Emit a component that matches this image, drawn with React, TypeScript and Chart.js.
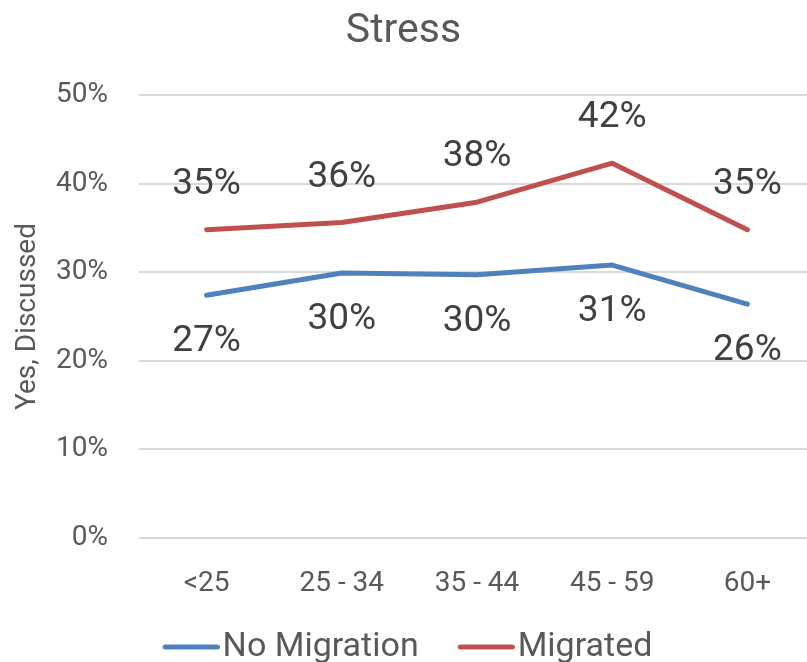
import React, { useEffect, useRef } from 'react';
import { Chart, registerables } from 'chart.js';

Chart.register(...registerables);

const categories = ['<25', '25 - 34', '35 - 44', '45 - 59', '60+'];
const noMigration = [27.4, 29.9, 29.7, 30.8, 26.4];
const migrated = [34.8, 35.6, 37.9, 42.3, 34.8];
const seriesNames = ['No Migration', 'Migrated'];
const yMin = 0;
const yMax = 50;
const yStep = 10;
const chartTitle = 'Stress';
const yTitle = 'Yes, Discussed';

const BLUE = '#4F81BD';
const RED = '#C0504D';
const FONT = 'Roboto';
const TEXT = '#595959';

const LEGEND_BOX = 51;
const LEGEND_IMG = 79;
const LEGEND_LINE = 57;

function legendLine(color: string) {
  const c = document.createElement('canvas');
  c.width = LEGEND_IMG;
  c.height = 10;
  const ctx = c.getContext('2d')!;
  ctx.strokeStyle = color;
  ctx.lineWidth = 5;
  ctx.lineCap = 'round';
  ctx.beginPath();
  ctx.moveTo(LEGEND_IMG - LEGEND_LINE + 2.5, 5);
  ctx.lineTo(LEGEND_IMG - 2.5, 5);
  ctx.stroke();
  return c;
}

const valueLabels = {
  id: 'valueLabels',
  afterDatasetsDraw(chart: any) {
    const ctx = chart.ctx;
    ctx.save();
    ctx.font = `37px ${FONT}`;
    ctx.fillStyle = '#404040';
    ctx.textAlign = 'center';
    ctx.textBaseline = 'middle';
    chart.data.datasets.forEach((ds: any, i: number) => {
      const meta = chart.getDatasetMeta(i);
      const off = i === 0 ? 47 : -45;
      meta.data.forEach((pt: any, j: number) => {
        ctx.fillText(Math.round(ds.data[j]) + '%', pt.x, pt.y + off);
      });
    });
    ctx.restore();
  },
};

export default function App() {
  const ref = useRef<HTMLCanvasElement>(null);
  useEffect(() => {
    const lines = [legendLine(BLUE), legendLine(RED)];
    const chart = new Chart(ref.current!, {
      type: 'line',
      data: {
        labels: categories,
        datasets: [
          {
            label: seriesNames[0],
            data: noMigration,
            borderColor: BLUE,
            backgroundColor: BLUE,
            borderWidth: 5,
            pointRadius: 0,
            tension: 0,
            borderCapStyle: 'round',
            borderJoinStyle: 'round',
          },
          {
            label: seriesNames[1],
            data: migrated,
            borderColor: RED,
            backgroundColor: RED,
            borderWidth: 5,
            pointRadius: 0,
            tension: 0,
            borderCapStyle: 'round',
            borderJoinStyle: 'round',
          },
        ],
      },
      options: {
        responsive: false,
        animation: false,
        events: [],
        layout: { padding: { left: -8, right: 5, top: 0, bottom: -12 } },
        plugins: {
          title: {
            display: true,
            text: chartTitle,
            color: TEXT,
            font: { family: FONT, size: 41, weight: 'normal', lineHeight: 1.2 },
            padding: { top: 7.5, bottom: 38.3 },
          },
          legend: {
            position: 'bottom',
            labels: {
              color: TEXT,
              font: { family: FONT, size: 34 },
              usePointStyle: true,
              pointStyleWidth: LEGEND_BOX,
              padding: 31,
              generateLabels(ch: any) {
                const items = (Chart as any).defaults.plugins.legend.labels.generateLabels(ch);
                items.forEach((it: any, i: number) => {
                  it.pointStyle = lines[i];
                });
                return items;
              },
            },
          },
          tooltip: { enabled: false },
        },
        scales: {
          x: {
            offset: true,
            grid: { display: false },
            border: { display: false },
            ticks: {
              color: TEXT,
              font: { family: FONT, size: 28 },
              padding: 21,
              maxRotation: 0,
              autoSkip: false,
            },
            afterFit(s: any) {
              s.height = 61;
            },
          },
          y: {
            min: yMin,
            max: yMax,
            grid: { color: '#D9D9D9', lineWidth: 2, drawTicks: false },
            border: { display: false },
            ticks: {
              stepSize: yStep,
              padding: 31,
              color: TEXT,
              font: { family: FONT, size: 28 },
              callback: (v: any) => v + '%',
            },
            title: {
              display: true,
              text: yTitle,
              color: TEXT,
              font: { family: FONT, size: 28 },
              padding: { top: 19, bottom: 0 },
            },
            afterFit(s: any) {
              s.width = 147;
            },
          },
        },
      },
      plugins: [valueLabels],
    } as any);
    return () => chart.destroy();
  }, []);
  return (
    <div
      style={{
        position: 'fixed',
        left: 0,
        top: 0,
        width: 807,
        height: 662,
        overflow: 'hidden',
        background: '#fff',
      }}
    >
      <canvas ref={ref} width={820} height={662} style={{ display: 'block' }} />
    </div>
  );
}
